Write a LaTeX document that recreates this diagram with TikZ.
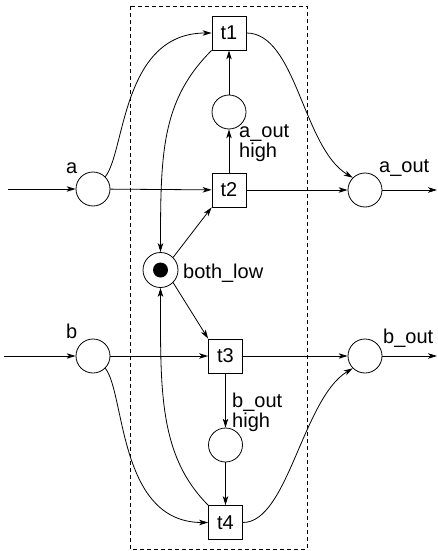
\documentclass[tikz,border=0pt]{standalone}
\usepackage{fontspec}
\setmainfont{Liberation Sans}
\usetikzlibrary{arrows.meta}
\begin{document}
\begin{tikzpicture}[x=1pt,y=-1pt,
  every node/.style={font=\fontsize{20}{20}\selectfont},
  place/.style={draw,circle,minimum size=34pt,inner sep=0pt,line width=0.8pt},
  trans/.style={draw,rectangle,minimum size=34pt,inner sep=0pt,line width=0.8pt},
  lbl/.style={anchor=base west,inner sep=0pt,align=left},
  arc/.style={line width=0.8pt,-{Stealth[length=9pt,width=5.5pt,inset=2.5pt]}}]
\useasboundingbox (0,0) rectangle (438,551);
\draw[dashed,dash pattern=on 4pt off 3pt,line width=0.7pt] (130,6) rectangle (307,549);
% places
\node[place] (a) at (93,189) {};
\node[place] (b) at (93,356) {};
\node[place] (aout) at (365,190) {};
\node[place] (bout) at (365,356) {};
\node[place] (ahigh) at (229,112) {};
\node[place] (bhigh) at (225.5,445) {};
\node[place,minimum size=35pt] (both) at (160.5,270) {};
\node[circle,fill=black,minimum size=15pt,inner sep=0pt] (tok) at (both) {};
% transitions
\node[trans] (t1) at (229,33) {t1};
\node[trans] (t2) at (229,190) {t2};
\node[trans] (t3) at (225.5,356) {t3};
\node[trans] (t4) at (225.5,522.5) {t4};
% labels
\node[lbl] (la) at (66,173) {a};
\node[lbl] (lb) at (66,338) {b};
\node[lbl] (laout) at (379,172) {a\_out};
\node[lbl] (lbout) at (383,343) {b\_out};
\node[lbl] (lah) at (239,157) {a\_out\\high};
\node[lbl] (lbh) at (232,427) {b\_out\\high};
\node[lbl] (lboth) at (183,278) {both\_low};
% free ends
\coordinate (ain) at (8,189);
\coordinate (bin) at (4,356);
\coordinate (aend) at (437,190);
\coordinate (bend) at (437,356);
% arcs
\draw[arc] (ain) -- (a);
\draw[arc] (bin) -- (b);
\draw[arc] (aout) -- (aend);
\draw[arc] (bout) -- (bend);
\draw[arc] (a) -- (t2);
\draw[arc] (t2) -- (aout);
\draw[arc] (b) -- (t3);
\draw[arc] (t3) -- (bout);
\draw[arc] (t2) -- (ahigh);
\draw[arc] (ahigh) -- (t1);
\draw[arc] (t3) -- (bhigh);
\draw[arc] (bhigh) -- (t4);
\draw[arc] (both.45) -- (t2.south west);
\draw[arc] (both.-45) -- (t3.north west);
\draw[arc] (a.45) .. controls +(20,-25) and +(-90,0) .. (t1.west);
\draw[arc] (b.-45) .. controls +(20,25) and +(-90,0) .. (t4.west);
\draw[arc] (t1.south west) .. controls +(-50,50) and +(0,-100) .. (both.north);
\draw[arc] (t4.north west) .. controls +(-50,-50) and +(0,100) .. (both.south);
\draw[arc] (t1.east) .. controls +(50,0) and +(-50,-30) .. (aout.135);
\draw[arc] (t4.east) .. controls +(45,0) and +(-50,30) .. (bout.225);
\end{tikzpicture}
\end{document}
